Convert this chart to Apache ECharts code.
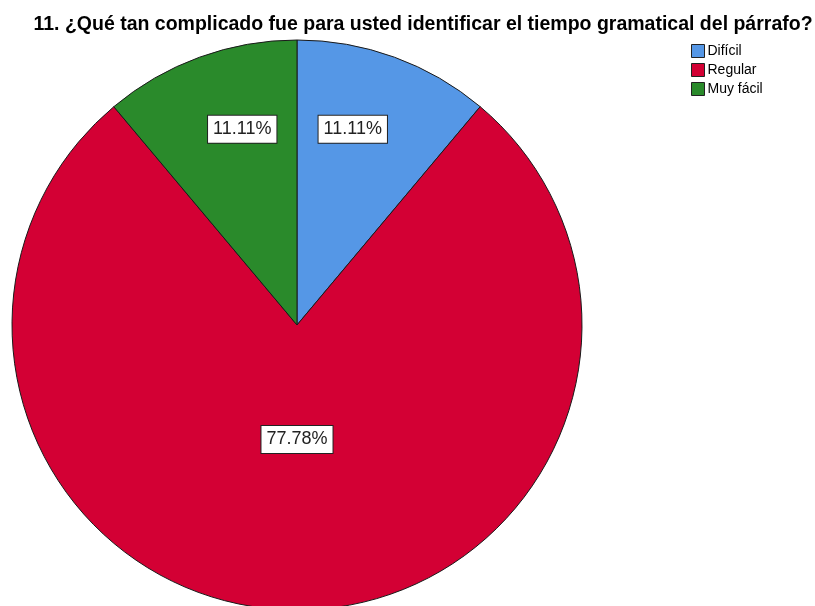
<!DOCTYPE html>
<html><head><meta charset="utf-8">
<script src="https://cdn.jsdelivr.net/npm/echarts@6/dist/echarts.min.js"></script>
<style>html,body{margin:0;padding:0;background:#fff}#c{width:815px;height:606px}</style>
</head><body><div id="c"></div>
<script>
const categories = ['Difícil', 'Regular', 'Muy fácil'];
const values = [1, 7, 1];
const percentLabels = ['11.11%', '77.78%', '11.11%'];
const colors = ['#5597E6', '#D30034', '#2A8A2B'];
const labelOffsets = [[6, -59], [0, -31], [-5, -59]];

const chart = echarts.init(document.getElementById('c'), null, {renderer: 'canvas'});
chart.setOption({
  animation: false,
  backgroundColor: '#fff',
  title: {
    text: '11. ¿Qué tan complicado fue para usted identificar el tiempo gramatical del párrafo?',
    left: 423, top: 15, textAlign: 'center', padding: 0,
    textStyle: {fontFamily: 'Liberation Sans, Arial, sans-serif', fontWeight: 'bold', fontSize: 19.5, color: '#000'}
  },
  legend: {
    orient: 'vertical', left: 686, top: 39, itemGap: 5,
    itemWidth: 13, itemHeight: 13, icon: 'rect',
    itemStyle: {borderColor: '#222', borderWidth: 1},
    textStyle: {fontFamily: 'Liberation Sans, Arial, sans-serif', fontSize: 14, color: '#000', padding: [0,0,0,-2]},
    data: categories
  },
  series: [{
    type: 'pie',
    center: [297, 325],
    radius: [0, 285],
    startAngle: 90,
    clockwise: true,
    silent: true,
    itemStyle: {borderColor: '#1a1a1a', borderWidth: 1},
    labelLine: {show: false},
    data: categories.map((n, i) => ({
      name: n, value: values[i],
      itemStyle: {color: colors[i]},
      label: {
        show: true, position: 'inside', formatter: percentLabels[i],
        offset: labelOffsets[i],
        backgroundColor: '#fff', borderColor: '#222', borderWidth: 1,
        padding: [5, 5, 4, 5],
        fontFamily: 'Liberation Sans, Arial, sans-serif', fontSize: 18, color: '#222'
      }
    }))
  }]
});
</script></body></html>
